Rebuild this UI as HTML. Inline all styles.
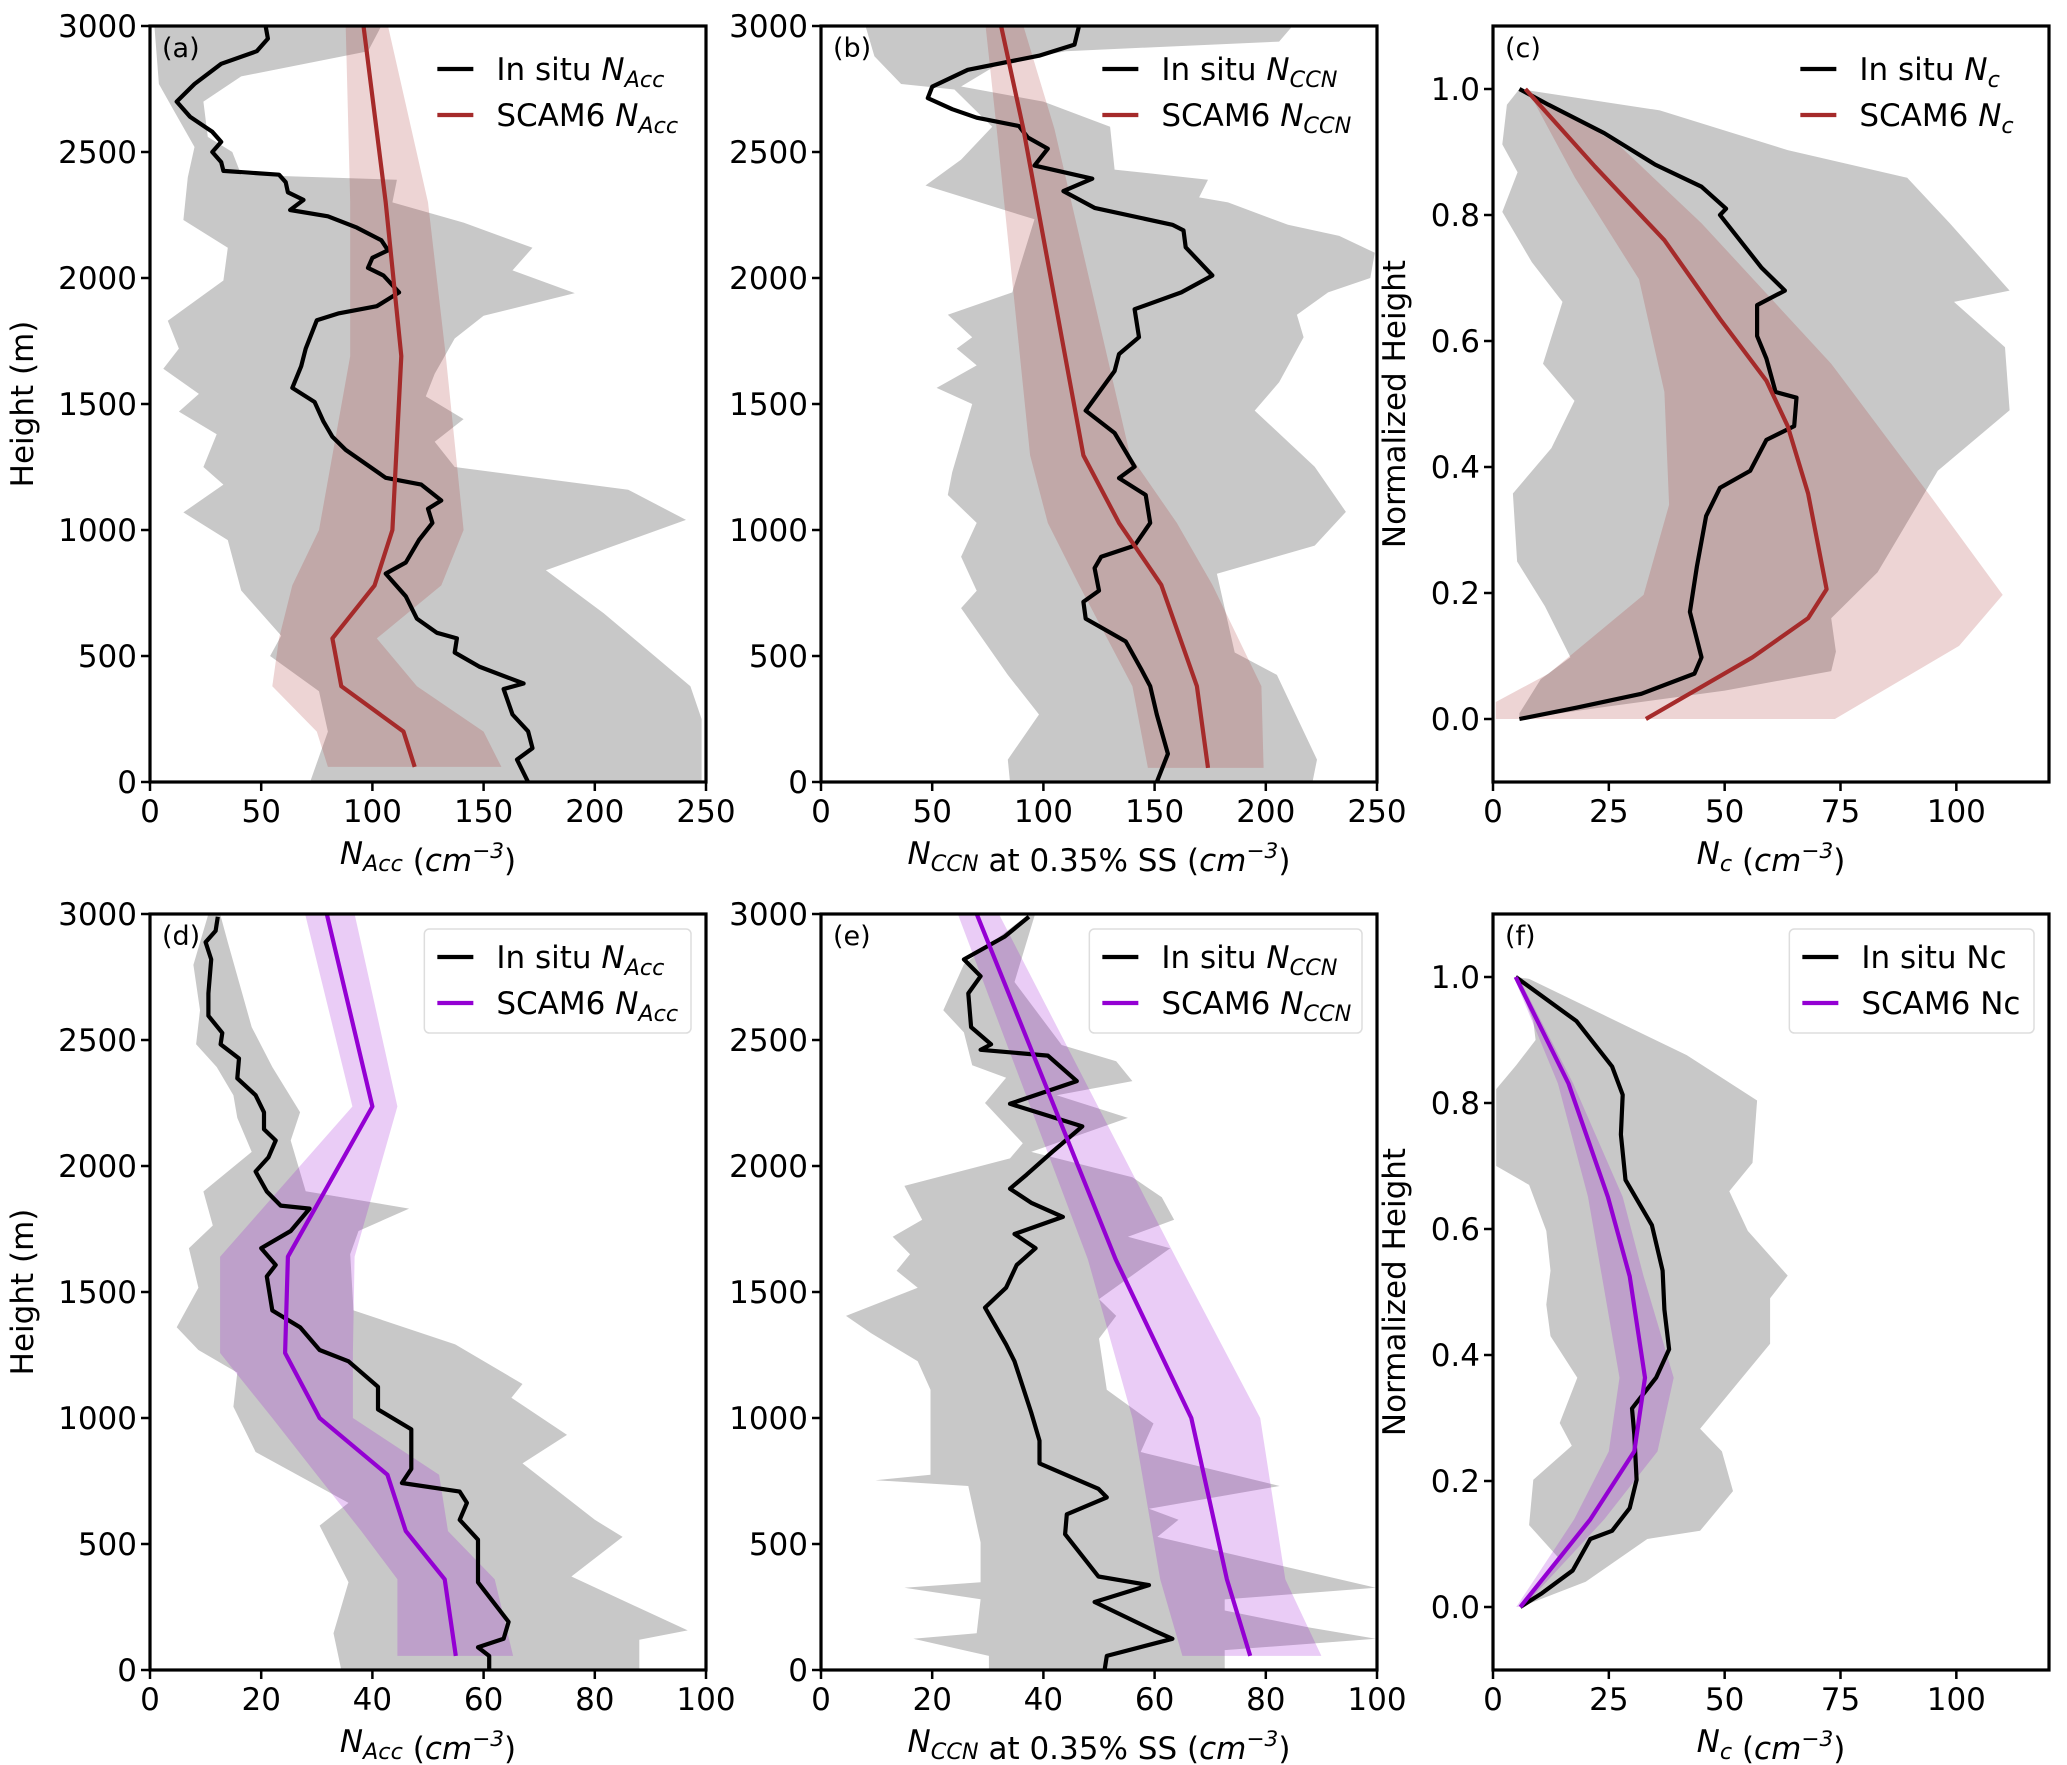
<!DOCTYPE html>
<html><head><meta charset="utf-8"><style>
html,body{margin:0;padding:0;background:#fff;}
svg{display:block;font-family:"DejaVu Sans","Liberation Sans",sans-serif;}
</style></head><body>
<svg id="fig" width="2067" height="1765" viewBox="0 0 2067 1765" xmlns="http://www.w3.org/2000/svg"></svg>
<script>
// ---------- DATA ----------
const aObsH = [3000,2950,2900,2850,2770,2700,2640,2580,2540,2500,2460,2425,2410,2380,2340,2310,2270,2245,2200,2150,2110,2080,2040,2010,1943,1888,1860,1832,1720,1650,1564,1508,1430,1370,1318,1207,1180,1117,1084,1028,961,871,827,737,648,592,570,514,458,391,369,268,201,134,89,0];
const aObsV = [52,53,48,32,20,12,18,28,32,28,32,33,58,61,62,69,63,80,93,104,107,100,98,105,112,102,85,75,70,68,64,74,78,82,88,106,122,131,125,127,121,115,106,115,120,129,138,137,148,168,159,163,170,172,165,170];
const aGrayLo = [[3000,2],[2770,4],[2660,11],[2520,20],[2400,17],[2230,15],[2120,35],[1990,33],[1830,8],[1720,13],[1640,6],[1540,22],[1470,13],[1380,30],[1250,24],[1180,33],[1070,15],[960,35],[760,41],[580,59],[500,54],[360,76],[200,80],[0,72]];
const aGrayHi = [[3000,104],[2900,98],[2800,41],[2700,24],[2560,26],[2500,37],[2410,41],[2390,111],[2300,109],[2220,141],[2120,172],[2030,163],[1940,191],[1850,150],[1760,137],[1620,128],[1530,124],[1440,141],[1350,128],[1250,137],[1160,215],[1040,241],[840,178],[670,204],[380,243],[250,248],[0,248]];
const aModH = [3000,2300,1690,1000,780,570,380,200,60];
const aModV = [96,106,113,109,101,82,86,114,119];
const aModLo = [88,90,90,76,64,58,55,75,80];
const aModHi = [107,125,133,141,131,102,120,150,158];

const bObsH = [3000,2926,2882,2826,2759,2714,2670,2636,2603,2558,2513,2446,2394,2345,2278,2211,2189,2122,2010,1943,1876,1765,1698,1631,1474,1385,1251,1206,1139,1028,938,894,849,759,715,648,558,447,380,268,112,0];
const bObsV = [116,114,98,66,50,48,59,70,89,93,102,96,122,109,123,158,163,164,176,162,141,143,134,132,119,132,141,134,146,148,141,126,123,125,118,119,137,144,148,151,156,151];
const bGrayLo = [[3000,20],[2880,24],[2770,36],[2748,60],[2600,77],[2470,63],[2367,47],[2233,96],[2033,89],[1943,86],[1854,57],[1765,68],[1720,61],[1653,70],[1564,52],[1500,68],[1229,59],[1139,57],[1028,70],[894,63],[759,70],[690,63],[425,84],[268,98],[89,84],[0,85]];
const bGrayHi = [[3000,212],[2938,206],[2900,110],[2850,80],[2760,63],[2700,100],[2600,130],[2430,132],[2390,174],[2320,170],[2300,183],[2211,210],[2167,233],[2100,249],[2000,247],[1943,228],[1854,214],[1765,217],[1586,206],[1474,195],[1251,222],[1072,236],[938,222],[826,178],[514,186],[425,205],[89,223],[0,221]];
const bModH = [3000,2591,1296,1028,782,380,56];
const bModV = [81,91,118,134,153,169,174];
const bModLo = [74,79,94,102,116,140,147];
const bModHi = [91,105,139,160,176,198,199];

const cObsH = [1.0,0.975,0.93,0.88,0.845,0.81,0.80,0.716,0.68,0.657,0.608,0.572,0.519,0.51,0.465,0.443,0.394,0.367,0.322,0.242,0.17,0.098,0.072,0.04,0.018,0];
const cObsV = [5.7,12,24,35,45,50.3,49,58,63,57,57,59,61,65.5,65,59,55.5,49,46,44,42.5,45,43.5,32,18,5.7];
const cGrayLo = [[1.0,5.7],[0.975,3],[0.912,2],[0.868,5.3],[0.805,2],[0.725,8.4],[0.662,15],[0.564,10.8],[0.505,17.6],[0.43,12.6],[0.358,4.3],[0.25,5.2],[0.179,11.2],[0.098,16.7],[0.063,10.3],[0.009,5.7]];
const cGrayHi = [[1.0,5.7],[0.966,36],[0.903,63.6],[0.859,89.4],[0.787,98.6],[0.68,111.5],[0.662,99.5],[0.59,110.5],[0.49,111.5],[0.394,96],[0.233,83],[0.16,73],[0.107,74],[0.076,73],[0.045,50],[0.02,25],[0,5.7]];
const cModH = [1.0,0.877,0.76,0.635,0.537,0.465,0.358,0.206,0.16,0.098,0];
const cModV = [7,22,37,49,59,63.6,68,72,68,56,33];
const cBandLo = [[0.997,7.6],[0.859,17.7],[0.698,31.5],[0.519,37],[0.34,38],[0.197,32.5],[0.072,12],[0.027,0.6],[0,0.6]];
const cBandHi = [[0.997,7.6],[0.912,27],[0.787,45],[0.564,73],[0.358,94],[0.197,110],[0.116,100.6],[0,73.8]];

const dObsH = [2989,2933,2888,2820,2685,2596,2528,2483,2427,2348,2281,2213,2146,2101,2034,1978,1899,1843,1831,1742,1674,1607,1562,1427,1360,1270,1225,1124,1034,955,798,742,708,663,596,517,348,191,124,90,56,0];
const dObsV = [12.2,11.8,10,11,10.5,10.5,13,12.7,16,15.7,19,20.5,20.5,22.6,21.3,19,21,23.5,28.7,25.3,20,22.6,21,22,27,30.5,35.7,41,41,47,47,45.3,55.7,57,55.7,59,59,64.5,63.6,59,61,61];
const dGrayLo = [[3000,10.5],[2798,7.8],[2618,9],[2483,8.3],[2393,12],[2281,15],[2191,15.7],[2056,18.3],[1899,9.6],[1764,11.3],[1674,7],[1517,8.7],[1360,4.8],[1270,8.7],[1180,15.7],[1045,15],[865,19],[663,35.7],[573,30.5],[348,35.7],[146,33],[0,34.4]];
const dGrayHi = [[3000,12.6],[2888,14],[2730,16],[2551,18.3],[2393,22],[2213,27],[2101,25.3],[1900,28],[1831,46.6],[1742,37.5],[1650,36],[1427,36.6],[1292,54.9],[1135,67],[1080,65],[933,75],[820,67],[596,80],[528,85],[371,75.8],[157,96.7],[120,88],[0,88]];
const dModH = [3000,2236,1640,1258,1000,775,551,360,56];
const dModV = [31.8,40,24.8,24.3,30.5,42.7,46,53,55];
const dModLo = [27.9,36.4,12.6,12.6,22,30,38,44.5,44.5];
const dModHi = [36.8,44.5,36.8,36.5,36.5,52,53.6,62,65.3];

const eObsH = [2989,2910,2820,2753,2685,2551,2483,2461,2438,2337,2247,2157,2056,1966,1910,1854,1798,1730,1674,1607,1517,1438,1292,1225,1022,910,820,719,685,618,539,371,337,270,157,124,56,0];
const eObsV = [37.4,33,25.7,28.7,26.5,27,30.6,28.7,40.8,46,34,47,41.6,37,34,37.8,43.5,34.8,38.6,35.2,33.3,29.5,33.3,34.8,37.8,39.3,39.3,49.9,51.4,44.2,43.9,49.9,59,49.2,59.8,63.2,51.4,51];
const eGrayLo = [[3000,37.4],[2800,25.7],[2618,22],[2530,25.7],[2400,27.2],[2350,33.3],[2250,29.5],[2090,36.3],[2030,34],[1921,15],[1787,18.2],[1719,12.9],[1650,16],[1584,13.6],[1517,17.4],[1405,4.5],[1337,9],[1225,17.4],[1112,19.7],[775,19.7],[753,9.8],[730,26.5],[506,28.7],[348,28.7],[326,15],[281,28.7],[146,28],[124,16.6],[56,30.2],[0,30.2]];
const eGrayHi = [[3000,38.5],[2730,34.8],[2480,43.3],[2416,53.1],[2337,56],[2281,42.4],[2191,55.2],[2056,37.8],[1955,56],[1876,61.3],[1787,63.5],[1719,55.2],[1674,62.8],[1472,50],[1405,53.1],[1315,50],[1112,51.4],[978,59.8],[865,57.5],[730,82.5],[640,59],[596,64.3],[528,60.5],[326,99.8],[280,72.6],[236,72.6],[169,87.7],[124,99.8],[79,72.6],[0,72.6]];
const eModH = [3000,1629,1000,360,56];
const eModV = [28,53,66.6,73,77.2];
const eModLo = [24.6,48,56,61,65];
const eModHi = [32,64,79,83.5,90];

const fObsH = [1.0,0.93,0.858,0.813,0.75,0.678,0.606,0.534,0.472,0.409,0.364,0.315,0.274,0.202,0.157,0.121,0.108,0.058,0.022,0];
const fObsV = [4.9,18,25.7,28,27.6,28.6,34.3,36.6,37,38,35.2,30,30.5,31,29.5,25.7,21,17.2,10.6,5.9];
const fGrayLo = [[1.0,4.9],[0.93,8.7],[0.9,9.2],[0.86,5],[0.822,0.7],[0.7,0.7],[0.67,7.8],[0.597,11.5],[0.534,12.4],[0.48,11.5],[0.43,12.4],[0.364,18.2],[0.292,14.4],[0.256,17],[0.202,8.7],[0.13,7.8],[0.076,14.4],[0.005,5.9]];
const fGrayHi = [[0.997,7.8],[0.94,23.8],[0.876,41.8],[0.804,57],[0.705,56],[0.66,51],[0.597,55],[0.526,63.6],[0.49,59.8],[0.418,59.8],[0.283,44.7],[0.247,49.4],[0.184,51.8],[0.121,44.7],[0.108,33.3],[0.04,20],[0,5.9]];
const fModH = [1.0,0.831,0.651,0.525,0.364,0.247,0.139,0];
const fModV = [4.9,16.3,24.8,29.5,32.8,30.5,21,5.9];
const fModLo = [4.5,14,20.5,23.5,27.3,25,17.5,5];
const fModHi = [5.5,17.3,28,32.5,39,35.5,24,6.5];

const ticksH = [0,500,1000,1500,2000,2500,3000];
const ticksNorm = [0.0,0.2,0.4,0.6,0.8,1.0];
const ticksX250 = [0,50,100,150,200,250];
const ticksX100 = [0,20,40,60,80,100];
const ticksNc = [0,25,50,75,100];

// ---------- DRAWING ----------
const NS = 'http://www.w3.org/2000/svg';
const svg = document.getElementById('fig');
function mk(tag, attrs, parent) {
  const e = document.createElementNS(NS, tag);
  for (const k in attrs) e.setAttribute(k, attrs[k]);
  (parent || svg).appendChild(e);
  return e;
}
const RED = '#a52a2a', PURP = '#9400d3';
const top1 = 26, bot1 = 782, top2 = 914, bot2 = 1670;
const cols = [[150,706],[821,1377],[1493,2049]];

function makeAxes(col, row, xmin, xmax, ymin, ymax) {
  const [x0,x1] = cols[col];
  const [y0,y1] = row === 0 ? [top1,bot1] : [top2,bot2];
  return { x0,x1,y0,y1,
    sx: v => x0 + (v - xmin) / (xmax - xmin) * (x1 - x0),
    sy: v => y1 - (v - ymin) / (ymax - ymin) * (y1 - y0) };
}
function edgePts(ax, arr) { return arr.map(p => ax.sx(p[1]).toFixed(1) + ',' + ax.sy(p[0]).toFixed(1)); }
function grayBand(ax, g, lo, hi) {
  const pts = edgePts(ax, lo).concat(edgePts(ax, hi).reverse());
  const p = mk('polygon', {points: pts.join(' '), fill: 'rgb(200,200,200)', stroke: 'none'}, g);
  
  
}
function modelBand(ax, g, H, lo, hi, color) {
  const L = H.map((h,i) => [h, lo[i]]), R = H.map((h,i) => [h, hi[i]]);
  const pts = edgePts(ax, L).concat(edgePts(ax, R).reverse());
  const p = mk('polygon', {points: pts.join(' '), fill: color, 'fill-opacity': 0.2, stroke: 'none'}, g);
  
  
}
function line(ax, g, H, V, color, name) {
  const pts = H.map((h,i) => ax.sx(V[i]).toFixed(1) + ',' + ax.sy(h).toFixed(1));
  const p = mk('polyline', {points: pts.join(' '), fill: 'none', stroke: color, 'stroke-width': 4.2, 'stroke-linejoin': 'round'}, g);
  
  
}
function frameAndTicks(ax, g, xt, yt, yfmt) {
  xt.forEach(v => {
    const x = ax.sx(v);
    mk('line', {x1:x, x2:x, y1:ax.y1, y2:ax.y1+9, stroke:'#000','stroke-width':2.5}, g);
    const t = mk('text', {x:x, y:ax.y1+40, 'font-size':31, 'text-anchor':'middle'}, g);
    t.textContent = v;
    
    
  });
  yt.forEach(v => {
    const y = ax.sy(v);
    mk('line', {x1:ax.x0-9, x2:ax.x0, y1:y, y2:y, stroke:'#000','stroke-width':2.5}, g);
    const t = mk('text', {x:ax.x0-13, y:y+11, 'font-size':31, 'text-anchor':'end'}, g);
    t.textContent = yfmt(v);
    
    
  });
  const r = mk('rect', {x:ax.x0, y:ax.y0, width:ax.x1-ax.x0, height:ax.y1-ax.y0, fill:'none', stroke:'#000', 'stroke-width':3.2}, g);
  
  
}
function quantity(parent, sym, sub) {
  const a = mk('tspan', {'font-style':'italic'}, parent); a.textContent = sym;
  const b = mk('tspan', {'font-style':'italic', 'font-size':'0.72em', dy: 7}, parent); b.textContent = sub;
  const c = mk('tspan', {dy: -7}, parent); c.textContent = '';
}
function xlabel(ax, g, pre, sym, sub, post) {
  const y = ax.y1 + 82;
  const t = mk('text', {x:(ax.x0+ax.x1)/2, y:y, 'font-size':31, 'text-anchor':'middle'}, g);
  
  
  quantity(t, sym, sub);
  const m = mk('tspan', {}, t); m.textContent = post;
  const p = mk('tspan', {}, t); p.textContent = ' (';
  const cm = mk('tspan', {'font-style':'italic'}, t); cm.textContent = 'cm';
  const e = mk('tspan', {'font-style':'italic','font-size':'0.7em', dy:-13}, t); e.textContent = '−3';
  const cl = mk('tspan', {dy:13}, t); cl.textContent = ')';
}
function ylabel(ax, g, txt) {
  const cy = (ax.y0+ax.y1)/2, cx = ax.x0 - (txt === 'Height (m)' ? 117 : 88);
  const t = mk('text', {x:cx, y:cy, 'font-size':31, 'text-anchor':'middle', transform:`rotate(-90 ${cx} ${cy})`}, g);
  t.textContent = txt;
  
  
}
function panelLabel(ax, g, s) {
  const t = mk('text', {x:ax.x0+12, y:ax.y0+31, 'font-size':27}, g);
  t.textContent = s;
  
  
}
function legend(ax, g, boxed, color, sub1, sub2, sym, plainLabels, dx) {
  const lx = ax.x0 + (ax.x1-ax.x0) * 0.524 + dx;
  const lg = mk('g', {}, g);
  
  
  const yA = ax.y0 + 43, yB = ax.y0 + 89;
  if (boxed) {
    mk('rect', {x:lx-13, y:ax.y0+15, width:(ax.x1-lx)-2, height:104, rx:5, fill:'#fff', 'fill-opacity':0.8, stroke:'#ddd', 'stroke-width':1.5}, lg);
  }
  [[yA,'#000','In situ ',sub1],[yB,color,'SCAM6 ',sub2]].forEach(r => {
    const ent = mk('g', {}, lg);
    
    
    mk('line', {x1:lx, x2:lx+36, y1:r[0], y2:r[0], stroke:r[1], 'stroke-width':4.2}, ent);
    const t = mk('text', {x:lx+59, y:r[0]+11, 'font-size':31}, ent);
    const s = mk('tspan', {}, t); s.textContent = r[2];
    if (plainLabels) { const q = mk('tspan', {}, t); q.textContent = 'Nc'; }
    else quantity(t, sym, r[3]);
  });
}

const panels = [
  {col:0,row:0,lab:'(a)',xr:[0,250],yr:[0,3000],xt:ticksX250,yt:ticksH,yl:'Height (m)',color:RED,
   obsH:aObsH,obsV:aObsV,gLo:aGrayLo,gHi:aGrayHi,mH:aModH,mV:aModV,mLo:aModLo,mHi:aModHi,
   xl:['', 'N','Acc',''], lsub:'Acc', boxed:false, dx:-4},
  {col:1,row:0,lab:'(b)',xr:[0,250],yr:[0,3000],xt:ticksX250,yt:ticksH,yl:null,color:RED,
   obsH:bObsH,obsV:bObsV,gLo:bGrayLo,gHi:bGrayHi,mH:bModH,mV:bModV,mLo:bModLo,mHi:bModHi,
   xl:['', 'N','CCN',' at 0.35% SS'], lsub:'CCN', boxed:false, dx:-10},
  {col:2,row:0,lab:'(c)',xr:[0,120],yr:[-0.1,1.1],xt:ticksNc,yt:ticksNorm,yl:'Normalized Height',color:RED,
   obsH:cObsH,obsV:cObsV,gLo:cGrayLo,gHi:cGrayHi,mH:cModH,mV:cModV,band:[cBandLo,cBandHi],
   xl:['', 'N','c',''], lsub:'c', boxed:false, dx:16},
  {col:0,row:1,lab:'(d)',xr:[0,100],yr:[0,3000],xt:ticksX100,yt:ticksH,yl:'Height (m)',color:PURP,
   obsH:dObsH,obsV:dObsV,gLo:dGrayLo,gHi:dGrayHi,mH:dModH,mV:dModV,mLo:dModLo,mHi:dModHi,
   xl:['', 'N','Acc',''], lsub:'Acc', boxed:true, dx:-4},
  {col:1,row:1,lab:'(e)',xr:[0,100],yr:[0,3000],xt:ticksX100,yt:ticksH,yl:null,color:PURP,
   obsH:eObsH,obsV:eObsV,gLo:eGrayLo,gHi:eGrayHi,mH:eModH,mV:eModV,mLo:eModLo,mHi:eModHi,
   xl:['', 'N','CCN',' at 0.35% SS'], lsub:'CCN', boxed:true, dx:-10},
  {col:2,row:1,lab:'(f)',xr:[0,120],yr:[-0.1,1.1],xt:ticksNc,yt:ticksNorm,yl:'Normalized Height',color:PURP,
   obsH:fObsH,obsV:fObsV,gLo:fGrayLo,gHi:fGrayHi,mH:fModH,mV:fModV,mLo:fModLo,mHi:fModHi,
   xl:['', 'N','c',''], lsub:'c', boxed:true, plain:true, dx:18},
];

panels.forEach((P, i) => {
  const ax = makeAxes(P.col, P.row, P.xr[0], P.xr[1], P.yr[0], P.yr[1]);
  const g = mk('g', {});
  
  
  const clipId = 'clip' + i;
  const cp = mk('clipPath', {id: clipId}, g);
  mk('rect', {x:ax.x0, y:ax.y0, width:ax.x1-ax.x0, height:ax.y1-ax.y0}, cp);
  const plot = mk('g', {'clip-path': `url(#${clipId})`}, g);
  
  
  grayBand(ax, plot, P.gLo, P.gHi);
  if (P.band) {
    const pts = edgePts(ax, P.band[0]).concat(edgePts(ax, P.band[1]).reverse());
    const p = mk('polygon', {points: pts.join(' '), fill: P.color, 'fill-opacity': 0.2}, plot);
    
    
  } else {
    modelBand(ax, plot, P.mH, P.mLo, P.mHi, P.color);
  }
  line(ax, plot, P.obsH, P.obsV, '#000', 'in-situ-line');
  line(ax, plot, P.mH, P.mV, P.color, 'scam6-line');
  const fmt = P.yr[1] > 10 ? (v => String(v)) : (v => v.toFixed(1));
  frameAndTicks(ax, g, P.xt, P.yt, fmt);
  panelLabel(ax, g, P.lab);
  legend(ax, g, P.boxed, P.color, P.lsub, P.lsub, 'N', P.plain, P.dx);
  xlabel(ax, g, '', 'N', P.xl[2], P.xl[3]);
  if (P.yl) ylabel(ax, g, P.yl);
});
</script>
</body></html>
